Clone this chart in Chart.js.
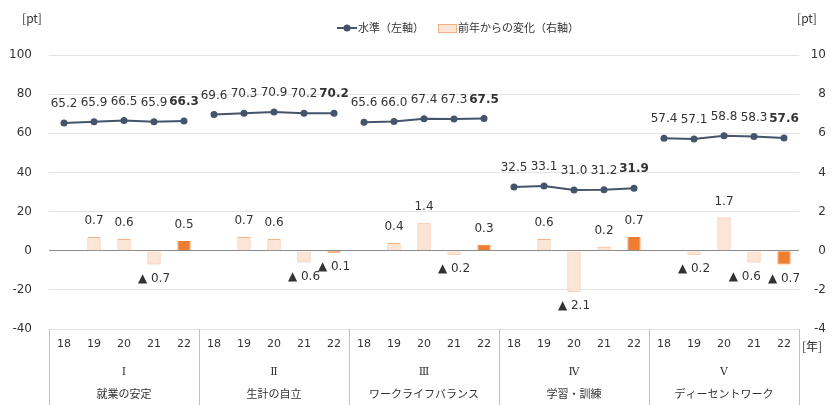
<!DOCTYPE html>
<html lang="ja">
<head>
<meta charset="utf-8">
<title>水準と前年からの変化</title>
<script src="https://cdn.jsdelivr.net/npm/chart.js@4"></script>
<style>
  html, body { margin: 0; padding: 0; background: #fff; }
  canvas { display: block; }
</style>
</head>
<body>
<canvas id="grafico" width="832" height="405"></canvas>
<script>
// ==========================================
// DADOS
// ==========================================

const anos = ["18", "19", "20", "21", "22"];
const numerosGrupo = ["Ⅰ", "Ⅱ", "Ⅲ", "Ⅳ", "Ⅴ"];
const nomesGrupo = ["就業の安定", "生計の自立", "ワークライフバランス", "学習・訓練", "ディーセントワーク"];

// 水準（左軸）
const nivelI   = [65.2, 65.9, 66.5, 65.9, 66.3];
const nivelII  = [69.6, 70.3, 70.9, 70.2, 70.2];
const nivelIII = [65.6, 66.0, 67.4, 67.3, 67.5];
const nivelIV  = [32.5, 33.1, 31.0, 31.2, 31.9];
const nivelV   = [57.4, 57.1, 58.8, 58.3, 57.6];

// 前年からの変化（右軸） - 18年は値なし
const variacaoI   = [null, 0.7, 0.6, -0.7, 0.5];
const variacaoII  = [null, 0.7, 0.6, -0.6, -0.1];
const variacaoIII = [null, 0.4, 1.4, -0.2, 0.3];
const variacaoIV  = [null, 0.6, -2.1, 0.2, 0.7];
const variacaoV   = [null, -0.2, 1.7, -0.6, -0.7];

// eixos
const ticksEsquerda = [-40, -20, 0, 20, 40, 60, 80, 100];
const ticksDireita  = [-4, -2, 0, 2, 4, 6, 8, 10];

// montamos as series "achatadas" (25 categorias)
const niveis = [nivelI, nivelII, nivelIII, nivelIV, nivelV].flat();
const variacoes = [variacaoI, variacaoII, variacaoIII, variacaoIV, variacaoV].flat();
const rotulosX = nomesGrupo.flatMap(() => anos);
const rotulosGrupo = numerosGrupo.map((n, i) => [n, nomesGrupo[i]]);

const n = anos.length;
const corLinha = "#44546A";
const corTexto = "#333333";
const fonteNum = "'DejaVu Sans', 'Noto Sans CJK JP', sans-serif";
const fonteJp = "'Noto Sans CJK JP', 'DejaVu Sans', sans-serif";
const fonteGrupo = "'DejaVu Serif', 'Noto Sans CJK JP', serif";

const ultimoAno = i => i % n === n - 1;

// ==========================================
// PLUGIN: rotulos, separadores, legenda
// ==========================================
const extras = {
  id: "extras",
  afterDatasetsDraw(chart) {
    const ctx = chart.ctx;
    ctx.save();
    ctx.textAlign = "center";
    ctx.textBaseline = "middle";
    ctx.fillStyle = corTexto;

    chart.getDatasetMeta(0).data.forEach((pt, i) => {
      if (niveis[i] == null) return;
      ctx.font = (ultimoAno(i) ? "bold " : "") + "12px " + fonteNum;
      ctx.fillText(niveis[i].toFixed(1), pt.x, pt.y - 19);
    });

    // rotulos das barras: primeiro calcula posicoes, depois evita sobreposicao
    ctx.font = "12px " + fonteNum;
    const itens = [];
    chart.getDatasetMeta(1).data.forEach((bar, i) => {
      const v = variacoes[i];
      if (v == null) return;
      const txt = v >= 0 ? v.toFixed(1) : "▲ " + Math.abs(v).toFixed(1);
      const y = v >= 0 ? bar.y - 16 : bar.y + 14;
      itens.push({ i, txt, x: bar.x, y, w: ctx.measureText(txt).width });
    });
    for (let k = itens.length - 2; k >= 0; k--) {
      const a = itens[k], b = itens[k + 1];
      if (b.i !== a.i + 1 || Math.abs(a.y - b.y) > 5) continue;
      const sobra = (a.x + a.w / 2) - (b.x - b.w / 2);
      if (sobra > -4) a.x -= sobra + 7;
    }
    itens.forEach(it => ctx.fillText(it.txt, it.x, it.y));
    ctx.restore();
  },
  afterDraw(chart) {
    const ctx = chart.ctx;
    const area = chart.chartArea;
    const x = chart.scales.x;
    const meio = (x.getPixelForValue(1) - x.getPixelForValue(0)) / 2;
    ctx.save();

    // separadores entre os grupos
    ctx.strokeStyle = "#BFBFBF";
    ctx.lineWidth = 1;
    for (let g = 0; g <= numerosGrupo.length; g++) {
      const px = g < numerosGrupo.length
        ? x.getPixelForValue(g * n) - meio
        : x.getPixelForValue(g * n - 1) + meio;
      ctx.beginPath();
      ctx.moveTo(Math.round(px) + 0.5, area.bottom);
      ctx.lineTo(Math.round(px) + 0.5, chart.height);
      ctx.stroke();
    }

    // unidades
    ctx.fillStyle = corTexto;
    ctx.textBaseline = "middle";
    ctx.font = "12px " + fonteJp;
    ctx.textAlign = "center";
    ctx.fillText("[pt]", 32, 18);
    ctx.fillText("[pt]", 807, 18);
    ctx.textAlign = "left";
    ctx.fillText("[年]", area.right + 3, 346);

    // legenda
    const ly = 28;
    ctx.font = "11px " + fonteJp;
    ctx.strokeStyle = corLinha;
    ctx.lineWidth = 2;
    ctx.beginPath();
    ctx.moveTo(337, ly);
    ctx.lineTo(357, ly);
    ctx.stroke();
    ctx.fillStyle = corLinha;
    ctx.beginPath();
    ctx.arc(347, ly, 3.5, 0, Math.PI * 2);
    ctx.fill();
    ctx.fillStyle = corTexto;
    ctx.fillText("水準（左軸）", 358, ly);

    ctx.fillStyle = "#FBE5D6";
    ctx.strokeStyle = "#F4B183";
    ctx.lineWidth = 1;
    ctx.fillRect(438.5, 24.5, 18, 8);
    ctx.strokeRect(438.5, 24.5, 18, 8);
    ctx.fillStyle = corTexto;
    ctx.fillText("前年からの変化（右軸）", 458, ly);
    ctx.restore();
  }
};

// ==========================================
// GRAFICO
// ==========================================
const canvas = document.getElementById("grafico");

let grafico = new Chart(canvas, {
  type: "bar",
  data: {
    labels: rotulosX,
    datasets: [
      {
        type: "line",
        label: "水準（左軸）",
        data: niveis,
        yAxisID: "y",
        borderColor: corLinha,
        backgroundColor: corLinha,
        borderWidth: 2,
        pointRadius: 3.5,
        pointBackgroundColor: corLinha,
        pointBorderWidth: 0,
        tension: 0,
        segment: {
          // nao liga o ultimo ano de um grupo ao primeiro do seguinte
          borderColor: c => ultimoAno(c.p0DataIndex) ? "rgba(0,0,0,0)" : corLinha
        }
      },
      {
        label: "前年からの変化（右軸）",
        data: variacoes,
        yAxisID: "y2",
        backgroundColor: variacoes.map((v, i) => ultimoAno(i) ? "#ED7D31" : "#FBE5D6"),
        borderColor: variacoes.map((v, i) => ultimoAno(i) ? "#ED7D31" : "#F4B183"),
        borderWidth: 1,
        barPercentage: 0.44,
        categoryPercentage: 1
      }
    ]
  },
  options: {
    responsive: false,
    animation: false,
    devicePixelRatio: 1,
    layout: { padding: { top: 55, right: 6, left: 0, bottom: 0 } },
    plugins: {
      legend: { display: false },
      tooltip: { enabled: false }
    },
    scales: {
      x: {
        type: "category",
        weight: 0,
        offset: true,
        grid: { display: false, drawTicks: false },
        border: { display: false },
        ticks: {
          font: { family: fonteNum, size: 11 },
          color: corTexto,
          padding: 9,
          maxRotation: 0,
          autoSkip: false
        },
        afterFit: s => { s.height = 30; }
      },
      x2: {
        type: "category",
        labels: rotulosGrupo,
        weight: 1,
        offset: true,
        grid: { display: false, drawTicks: false },
        border: { display: false },
        ticks: {
          font: { family: fonteGrupo, size: 11, lineHeight: 23 / 11 },
          color: corTexto,
          padding: 2,
          maxRotation: 0,
          autoSkip: false
        },
        afterFit: s => { s.height = 46; }
      },
      y: {
        position: "left",
        min: ticksEsquerda[0],
        max: ticksEsquerda[ticksEsquerda.length - 1],
        afterBuildTicks: s => { s.ticks = ticksEsquerda.map(v => ({ value: v })); },
        grid: {
          drawTicks: false,
          color: c => c.tick && c.tick.value === 0 ? "#8C8C8C" : "#E3E3E3"
        },
        border: { display: false },
        ticks: {
          font: { family: fonteNum, size: 12 },
          color: corTexto,
          padding: 17
        },
        afterFit: s => { s.width = 49; }
      },
      y2: {
        position: "right",
        min: ticksDireita[0],
        max: ticksDireita[ticksDireita.length - 1],
        afterBuildTicks: s => { s.ticks = ticksDireita.map(v => ({ value: v })); },
        grid: { drawOnChartArea: false, drawTicks: false },
        border: { display: false },
        ticks: {
          font: { family: fonteNum, size: 12 },
          color: corTexto,
          crossAlign: "far",
          padding: 8
        },
        afterFit: s => { s.width = 27; }
      }
    }
  },
  plugins: [extras]
});
</script>
</body>
</html>
